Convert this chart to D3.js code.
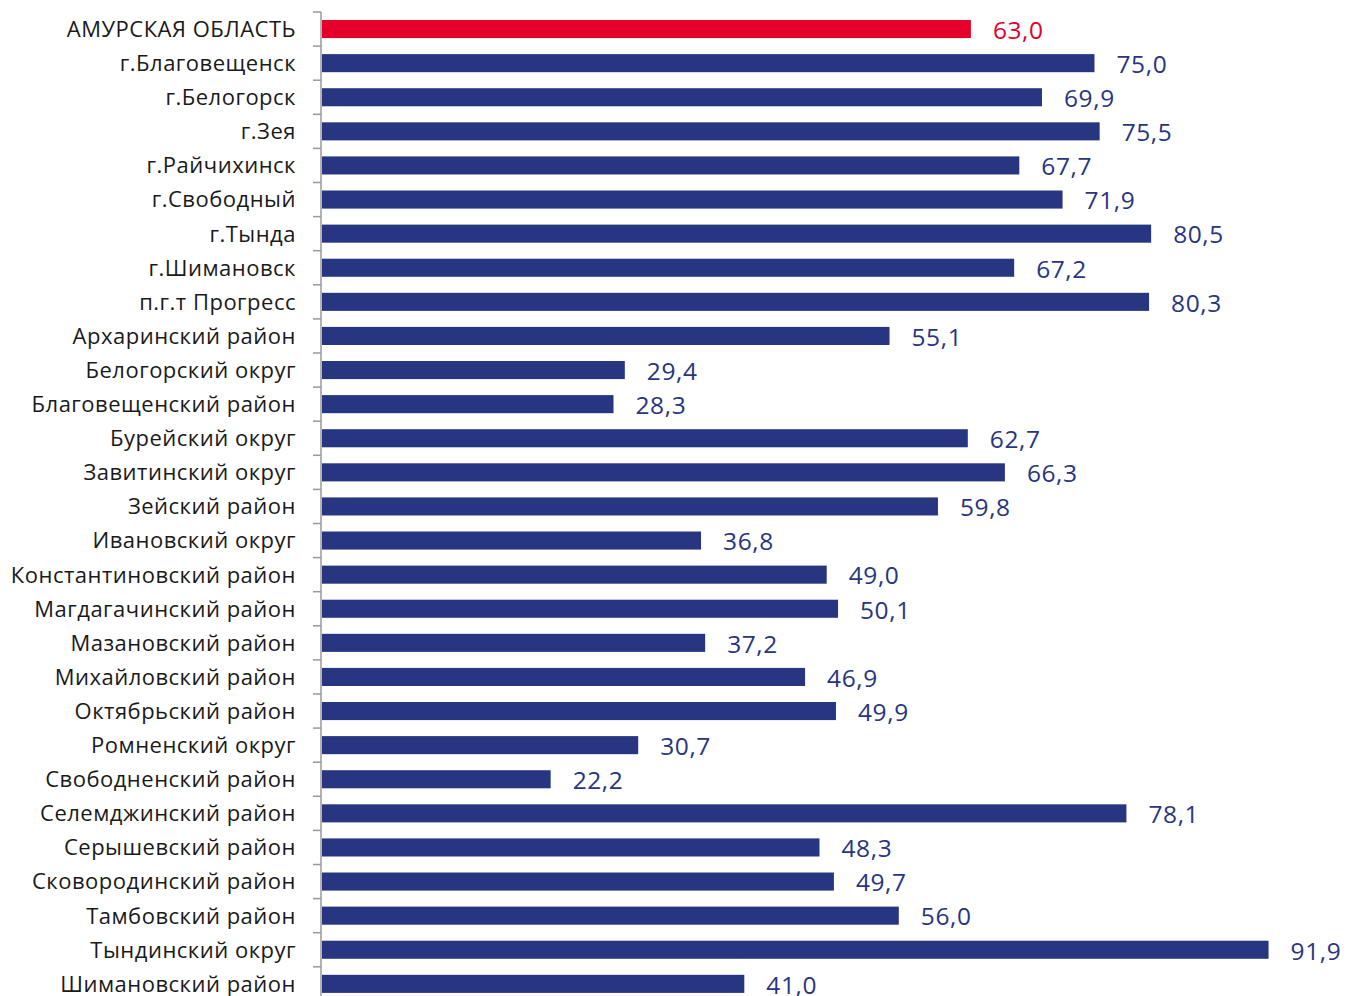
<!DOCTYPE html>
<html>
<head>
<meta charset="utf-8">
<script src="https://cdn.jsdelivr.net/npm/d3@7"></script>
<style>
  body { margin: 0; background: #fff; }
  svg text { font-family: "Open Sans", "Noto Sans", sans-serif; }
</style>
</head>
<body>
<svg id="chart" width="1348" height="996"></svg>
<script>
const categories = [
  "АМУРСКАЯ ОБЛАСТЬ", "г.Благовещенск", "г.Белогорск", "г.Зея", "г.Райчихинск",
  "г.Свободный", "г.Тында", "г.Шимановск", "п.г.т Прогресс", "Архаринский район",
  "Белогорский округ", "Благовещенский район", "Бурейский округ", "Завитинский округ",
  "Зейский район", "Ивановский округ", "Константиновский район", "Магдагачинский район",
  "Мазановский район", "Михайловский район", "Октябрьский район", "Ромненский округ",
  "Свободненский район", "Селемджинский район", "Серышевский район",
  "Сковородинский район", "Тамбовский район", "Тындинский округ", "Шимановский район"
];
const values = [
  63.0, 75.0, 69.9, 75.5, 67.7, 71.9, 80.5, 67.2, 80.3, 55.1, 29.4, 28.3, 62.7, 66.3,
  59.8, 36.8, 49.0, 50.1, 37.2, 46.9, 49.9, 30.7, 22.2, 78.1, 48.3, 49.7, 56.0, 91.9, 41.0
];
const highlighted = ["АМУРСКАЯ ОБЛАСТЬ"];

const BLUE = "#283580";
const RED = "#e4002b";

const data = categories.map((c, i) => ({ name: c, value: values[i] }));

const svg = d3.select("#chart");
const AXIS_X = 321;

const x = d3.scaleLinear().domain([0, 100]).range([AXIS_X + 1, AXIS_X + 1031]);
const y = d3.scaleBand().domain(categories)
  .range([12, 12 + categories.length * 34.1])
  .paddingInner(0.47).paddingOuter(0.235);

const fmt = v => d3.format(".1f")(v).replace(".", ",");
const colorOf = d => highlighted.includes(d.name) ? RED : BLUE;

// bars
svg.append("g").selectAll("rect")
  .data(data)
  .join("rect")
  .attr("x", x(0))
  .attr("y", d => y(d.name))
  .attr("width", d => x(d.value) - x(0))
  .attr("height", y.bandwidth())
  .attr("fill", colorOf);

// value labels
svg.append("g").selectAll("text")
  .data(data)
  .join("text")
  .attr("x", d => x(d.value) + 22)
  .attr("y", d => y(d.name) + y.bandwidth() / 2 + 1)
  .attr("dy", "0.36em")
  .attr("font-size", 24.5)
  .attr("letter-spacing", 0.6)
  .attr("fill", colorOf)
  .text(d => fmt(d.value));

// category axis with ticks between bands
const axisG = svg.append("g");
axisG.append("line")
  .attr("x1", AXIS_X).attr("x2", AXIS_X)
  .attr("y1", y.range()[0]).attr("y2", y.range()[1])
  .attr("stroke", "#9a9a9a").attr("stroke-width", 1.5);

const boundaries = categories.map(c => y(c) - y.step() * y.paddingInner() / 2);
axisG.selectAll(".tick")
  .data(boundaries)
  .join("line")
  .attr("class", "tick")
  .attr("x1", AXIS_X - 8).attr("x2", AXIS_X)
  .attr("y1", d => d).attr("y2", d => d)
  .attr("stroke", "#9a9a9a").attr("stroke-width", 1.5);

axisG.selectAll(".cat")
  .data(categories)
  .join("text")
  .attr("class", "cat")
  .attr("x", AXIS_X - 25)
  .attr("y", d => y(d) + y.bandwidth() / 2)
  .attr("dy", "0.36em")
  .attr("text-anchor", "end")
  .attr("font-size", 22)
  .attr("letter-spacing", 0.5)
  .attr("fill", "#1a1a1a")
  .text(d => d);
</script>
</body>
</html>
